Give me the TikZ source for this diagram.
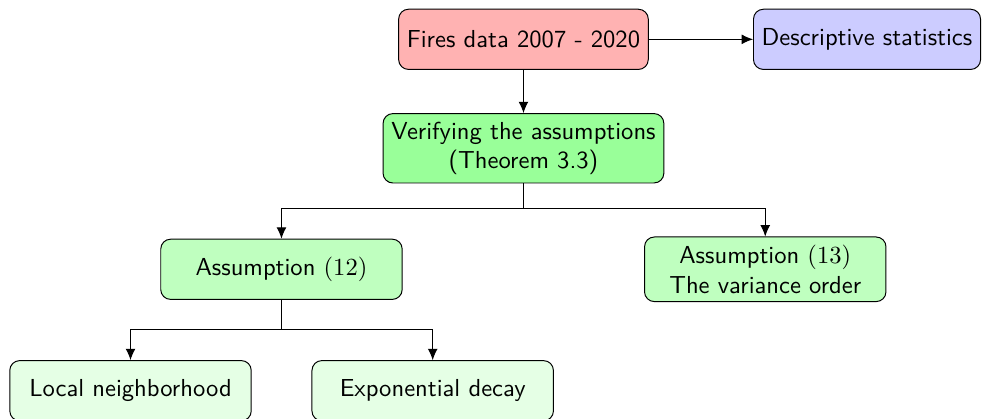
\documentclass[tikz,border=0pt]{standalone}
\usepackage{tikz}
\usepackage{amsmath}
\usepackage{amssymb}
\usepackage{color}
\usetikzlibrary{positioning, arrows.meta}
\tikzset{box/.style = {draw, rounded corners, align = center, font = \sffamily, minimum height = 0.86cm},
	firebox/.style = {box, fill = red!30},
	descbox/.style = {box, fill = blue!20},
	verifybox/.style = {box, fill = green!40},
	assumbox/.style = {box, fill = green!25, minimum width = 3.45cm},
	leafbox/.style = {box, fill = green!10, minimum width = 3.45cm},
	tip/.style = {-{Latex[length = 4.6pt, width = 4pt]}}}

\begin{document}
\begin{tikzpicture}

					\useasboundingbox (0,0) rectangle (14.075,-5.987);

					\node[firebox] (fires) at (7.48,-0.562) {Fires data 2007 - 2020};
					\node[descbox, anchor = west] (desc) at (10.76,-0.562) {Descriptive statistics};
					\node[verifybox] (verify) at (7.48,-2.119) {Verifying the assumptions\\(Theorem 3.3)};

					\node[assumbox] (assum12) at (4.022,-3.848) {Assumption $(12)$};
					\node[assumbox] (assum13) at (10.935,-3.848) {Assumption $(13)$\\The variance order};

					\node[leafbox] (local) at (1.865,-5.583) {Local neighborhood};
					\node[leafbox] (expdecay) at (6.183,-5.583) {Exponential decay};

					\coordinate (fork1) at (7.48,-2.986);
					\coordinate (fork2) at (4.022,-4.715);

					\draw[tip] (fires) -- (desc);
					\draw[tip] (fires) -- (verify);

					\draw (verify.south) -- (fork1);
					\draw[tip] (fork1) -| (assum12.north);
					\draw[tip] (fork1) -| (assum13.north);

					\draw (assum12.south) -- (fork2);
					\draw[tip] (fork2) -| (local.north);
					\draw[tip] (fork2) -| (expdecay.north);

\end{tikzpicture}
\end{document}
